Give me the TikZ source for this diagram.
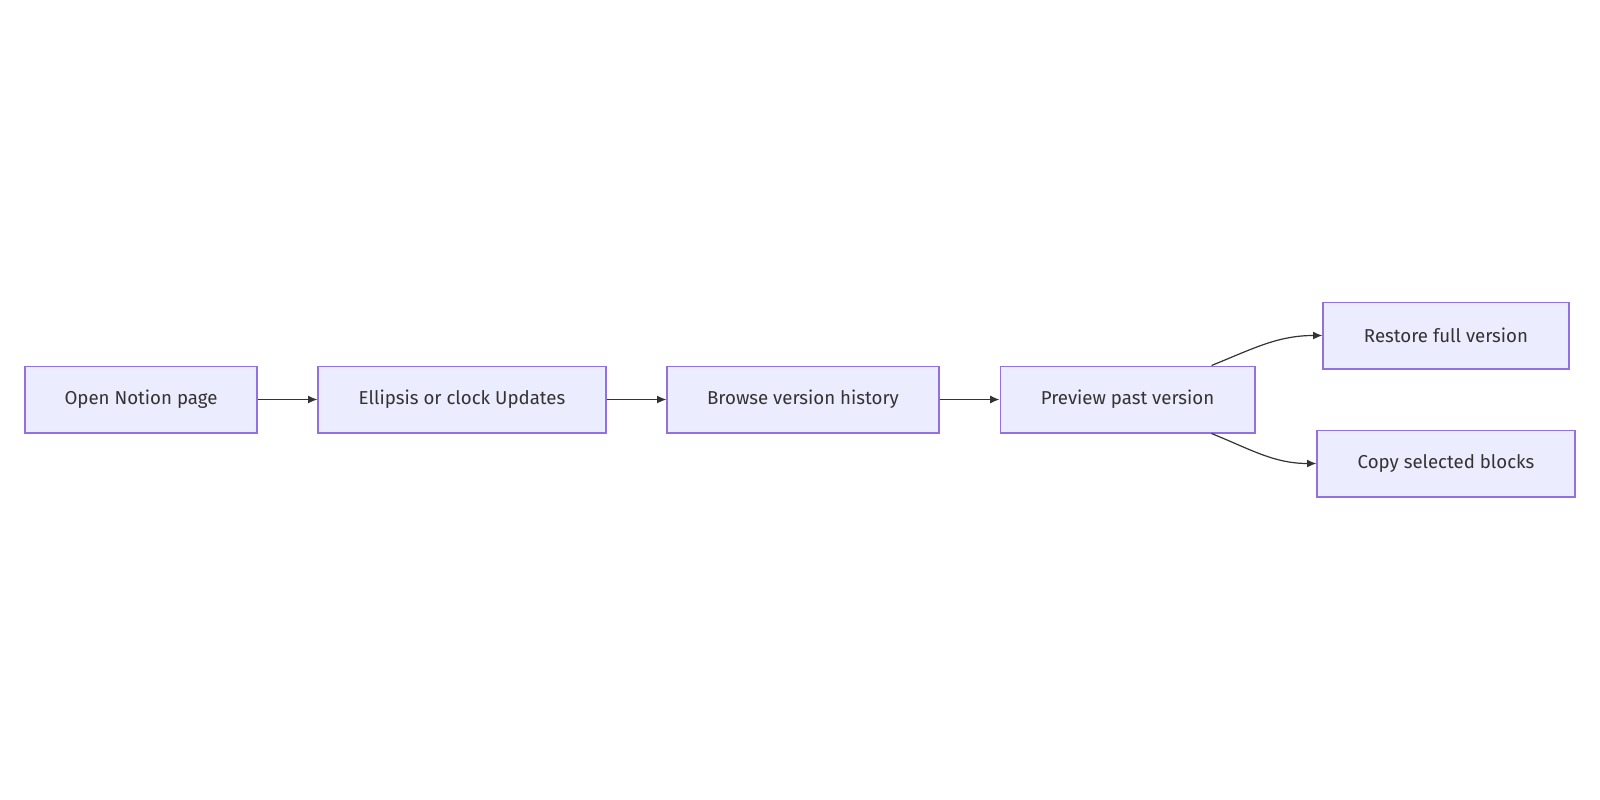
\documentclass[tikz,border=0pt]{standalone}
\usepackage{fontspec}
\setmainfont{Fira Sans}
\usepackage{xcolor}
\usetikzlibrary{shapes,arrows,arrows.meta}
\definecolor{boxfill}{RGB}{236,236,255}
\definecolor{boxline}{RGB}{147,112,219}
\definecolor{ink}{RGB}{51,51,51}

\begin{document}
\begin{tikzpicture}[x=0.75pt,y=-0.75pt]
\tikzstyle{every node}=[font=\fontsize{14}{16}\selectfont,text=ink]
\tikzstyle{stepnode}=[draw=boxline,fill=boxfill,line width=1pt,minimum height=50pt,inner sep=0pt]
\tikzstyle{flow}=[draw=ink,line width=0.9pt,-{Latex[length=7pt,width=6pt]}]
\useasboundingbox (0,0) rectangle (1600,800);
\node [stepnode,minimum width=174pt] (open) at (141,399.5) {Open Notion page};
\node [stepnode,minimum width=216pt] (ellipsis) at (462,399.5) {Ellipsis or clock Updates};
\node [stepnode,minimum width=204pt] (browse) at (803,399.5) {Browse version history};
\node [stepnode,minimum width=191pt] (preview) at (1127.5,399.5) {Preview past version};
\node [stepnode,minimum width=184.5pt] (restore) at (1446,335.5) {Restore full version};
\node [stepnode,minimum width=193.5pt] (copy) at (1446,463.5) {Copy selected blocks};
\draw [flow] (open) -- (ellipsis);
\draw [flow] (ellipsis) -- (browse);
\draw [flow] (browse) -- (preview);
\draw [flow] ([xshift=63pt]preview.north) to[out=22,in=180] (restore.west);
\draw [flow] ([xshift=63pt]preview.south) to[out=-22,in=180] (copy.west);
\end{tikzpicture}
\end{document}
